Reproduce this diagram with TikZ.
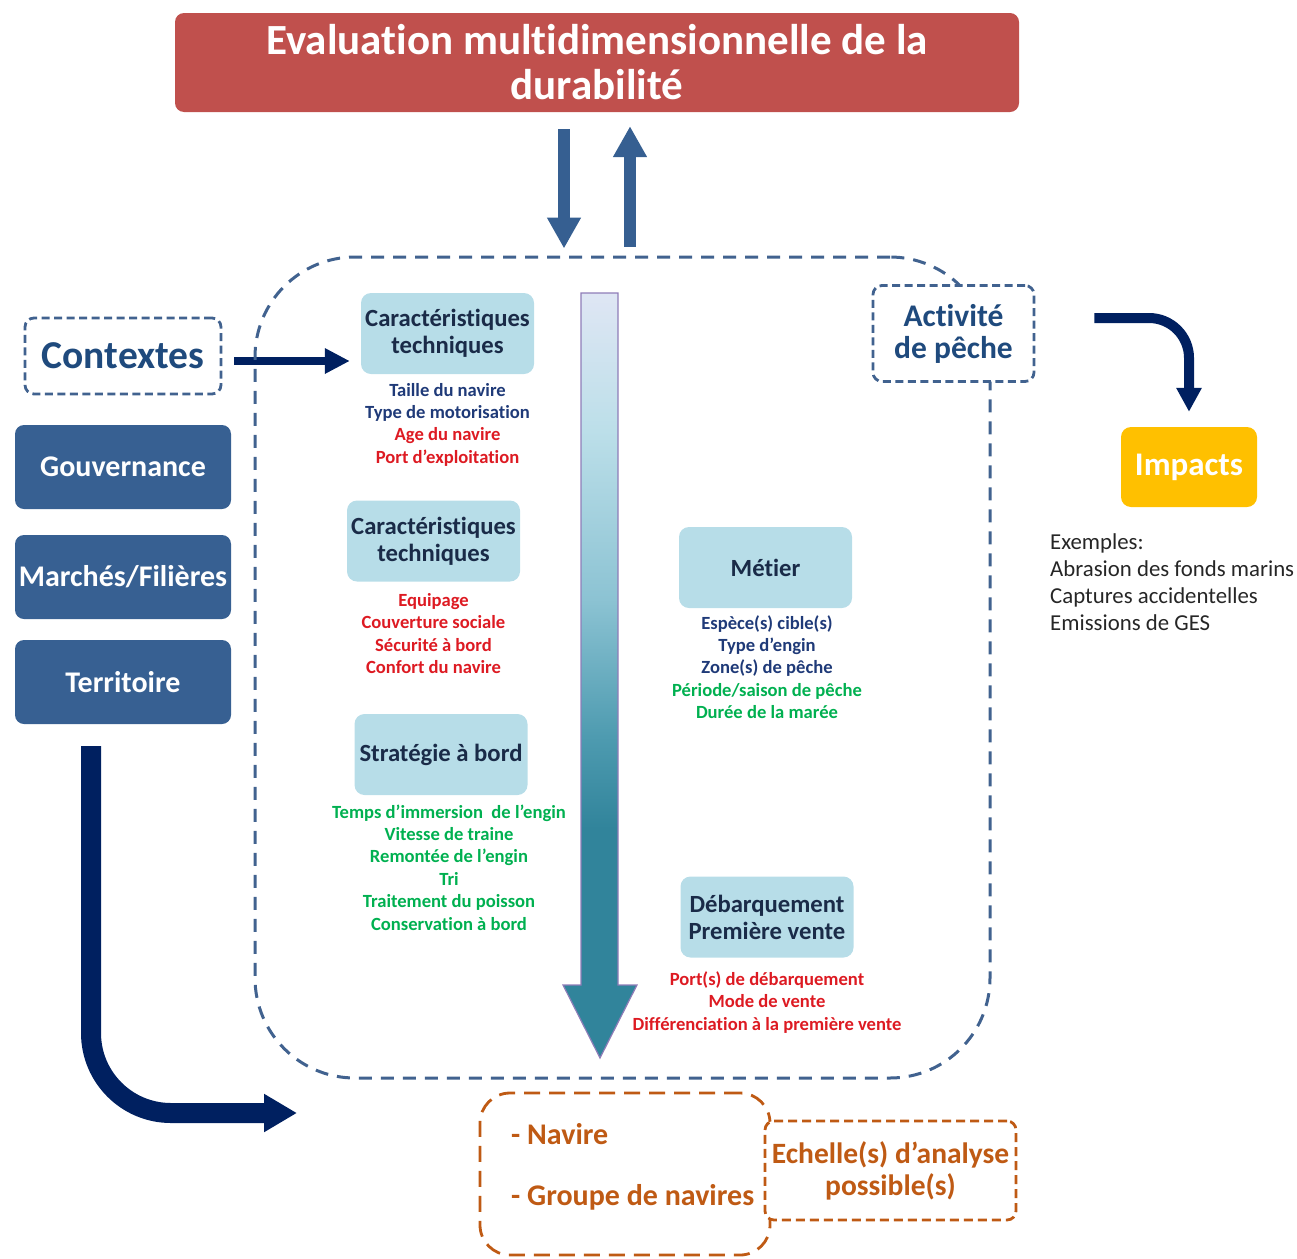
\documentclass[tikz,border=0pt]{standalone}
\usepackage{fontspec}
\setmainfont{Carlito}[Ligatures=NoCommon]
\usetikzlibrary{arrows.meta,calc}

\definecolor{titlered}{HTML}{C0504D}
\definecolor{arrowblue}{HTML}{365F91}
\definecolor{navy}{HTML}{002060}
\definecolor{dashblue}{HTML}{41628F}
\definecolor{headblue}{HTML}{1F4A7D}
\definecolor{ctxbox}{HTML}{376092}
\definecolor{lbfill}{HTML}{B7DDE8}
\definecolor{lbtext}{HTML}{1A2B48}
\definecolor{listnavy}{HTML}{1F3A78}
\definecolor{listred}{HTML}{DD1A22}
\definecolor{listgreen}{HTML}{00B050}
\definecolor{impyellow}{HTML}{FFC000}
\definecolor{exgray}{HTML}{262626}
\definecolor{brown}{HTML}{BF5A14}
\definecolor{gteal}{HTML}{31849B}
\definecolor{gmidB}{HTML}{4E9BB0}
\definecolor{gmidA}{HTML}{8CC3D3}
\definecolor{glight}{HTML}{BCDFE9}
\definecolor{gtop}{HTML}{DFE6F4}
\definecolor{gborder}{HTML}{8F7DB8}

% vertical colour ramp of the central flow arrow (light at the top, teal at the tip)
\pgfdeclareverticalshading{flowramp}{100bp}{color(0bp)=(gteal); color(40bp)=(gteal);
  color(46bp)=(gmidB); color(55bp)=(gmidA); color(66bp)=(glight); color(75bp)=(gtop); color(100bp)=(gtop)}

\begin{document}
\begin{tikzpicture}[x=1pt,y=-1pt,
  titlebox/.style={fill=titlered, rounded corners=9pt, text=white, align=center,
    font=\bfseries\fontsize{43}{45}\selectfont, minimum width=844pt, minimum height=99pt, inner sep=0pt},
  dashbox/.style={draw=dashblue, fill=white, line width=2.8pt, dash pattern=on 8pt off 4.5pt,
    rounded corners=9pt, text=headblue, align=center, inner sep=0pt},
  ctxstyle/.style={fill=ctxbox, rounded corners=9pt, text=white, minimum width=216pt,
    minimum height=84pt, inner sep=0pt, font=\bfseries\fontsize{30}{32}\selectfont},
  lbox/.style={fill=lbfill, rounded corners=10pt, minimum width=173pt, minimum height=81pt,
    text=lbtext, align=center, inner sep=0pt, font=\bfseries\fontsize{24.7}{27}\selectfont},
  itemlist/.style={anchor=north, align=center, inner sep=0pt, font=\bfseries\fontsize{18.6}{22.4}\selectfont},
  brownbox/.style={draw=brown, line width=2.8pt, text=brown, inner sep=0pt},
  fatblue/.style={draw=arrowblue, line width=12pt, -{Triangle[width=32pt,length=31pt]}},
  navyarrow/.style={draw=navy}
]
\useasboundingbox (0,0) rectangle (1297,1258);

% title banner
\node[titlebox] (title) at (597,62.5) {Evaluation multidimensionnelle de la\\durabilité};

% context column
\node[ctxstyle] (gouv) at (123,467) {Gouvernance};
\node[ctxstyle] (marche) at (123,577) {Marchés/Filières};
\node[ctxstyle] (terr) at (123,682) {Territoire};

% activity blocks
\node[lbox] (tech1) at (447.5,333.5) {Caractéristiques\\techniques};
\node[lbox] (tech2) at (433.5,541) {Caractéristiques\\techniques};
\node[lbox] (strat) at (441,754.5) {Stratégie à bord};
\node[lbox] (metier) at (765.5,567.5) {Métier};
\node[lbox] (debarq) at (767,917) {Débarquement\\Première vente};

\node[itemlist] (list1) at ($(tech1.south)+(0,6)$) {\strut\textcolor{listnavy}{Taille du navire}\\
  \textcolor{listnavy}{Type de motorisation}\\\textcolor{listred}{Age du navire}\\
  \textcolor{listred}{Port d’exploitation}};
\node[itemlist, text=listred] (list2) at ($(tech2.south)+(0,9)$) {\strut Equipage\\Couverture sociale\\
  Sécurité à bord\\Confort du navire};
\node[itemlist, text=listgreen] (list3) at ($(strat.south)+(8,7)$) {\strut Temps d’immersion \ de l’engin\\
  Vitesse de traine\\Remontée de l’engin\\Tri\\Traitement du poisson\\Conservation à bord};
\node[itemlist] (list4) at ($(metier.south)+(1.5,5)$) {\strut\textcolor{listnavy}{Espèce(s) cible(s)}\\
  \textcolor{listnavy}{Type d’engin}\\\textcolor{listnavy}{Zone(s) de pêche}\\
  \textcolor{listgreen}{Période/saison de pêche}\\\textcolor{listgreen}{Durée de la marée}};
\node[itemlist, text=listred] (list5) at ($(debarq.south)+(0,12)$) {\strut Port(s) de débarquement\\
  Mode de vente\\Différenciation à la première vente};

% central flow arrow
\shadedraw[shading=flowramp, draw=gborder, line width=1.2pt, line join=miter]
  (581,293) -- (618,293) -- (618,985) -- (637,985) -- (600,1058) -- (563,985) -- (581,985) -- cycle;

% Contextes -> technical characteristics
\node[dashbox, minimum width=196pt, minimum height=76pt, font=\bfseries\fontsize{39.5}{40}\selectfont]
  (ctx) at (123,356) {Contextes};
\coordinate (ctxhit) at (ctx.east -| tech1.west);
\draw[navyarrow, line width=8pt, -{Triangle[width=24pt,length=25pt]}]
  ($(ctx.east)+(12,5)$) -- ($(ctxhit)+(-11,5)$);

% dashed frame of the fishing activity
\node[draw=dashblue, line width=3pt, dash pattern=on 13pt off 9pt, rounded corners=100pt,
  minimum width=735pt, minimum height=821pt, inner sep=0pt] (frame) at (622.5,667.5) {};

\node[dashbox, minimum width=161pt, minimum height=96pt, font=\bfseries\fontsize{31.5}{32}\selectfont]
  (act) at (953.5,333.5) {Activité\\de pêche};

% exchanges with the assessment
\coordinate (downx) at ($(title.south)+(-33,0)$);
\coordinate (upx) at ($(title.south)+(33,0)$);
\draw[fatblue] ($(downx)+(0,17)$) -- ($(downx |- frame.north)+(0,-7)$);
\draw[fatblue] ($(upx |- frame.north)+(0,-9)$) -- ($(upx)+(0,14)$);

% impacts
\node[fill=impyellow, rounded corners=10pt, minimum width=136pt, minimum height=80pt, inner sep=0pt,
  text=white, font=\bfseries\fontsize{33}{34}\selectfont] (imp) at (1189,467) {Impacts};
\draw[navyarrow, line width=10pt, rounded corners=40pt, -{Triangle[width=24pt,length=24pt]}]
  ($(act.east)+(59,-15.5)$) -| ($(imp.north)+(0,-15)$);
\node[anchor=north west, align=left, inner sep=0pt, text=exgray, font=\fontsize{22.8}{27}\selectfont]
  (ex) at (1050,530) {\strut Exemples:\\Abrasion des fonds marins\\Captures accidentelles\\Emissions de GES};

% scales of analysis
\node[brownbox, dash pattern=on 16pt off 9pt, rounded corners=30pt, minimum width=290pt,
  minimum height=162pt] (scale) at (625,1174) {};
\node[anchor=west, inner sep=0pt, text=brown, font=\bfseries\fontsize{30}{30}\selectfont]
  (nav1) at (511,1134) {- Navire};
\node[anchor=west, inner sep=0pt, text=brown, font=\bfseries\fontsize{30}{30}\selectfont]
  (nav2) at (511,1197) {- Groupe de navires};
\node[brownbox, fill=white, dash pattern=on 9pt off 5pt, rounded corners=9pt, minimum width=251pt,
  minimum height=99pt, align=center, font=\bfseries\fontsize{29.5}{32}\selectfont]
  (ech) at (890.5,1170.5) {Echelle(s) d’analyse\\possible(s)};

% context arrow down to the scales
\coordinate (lend) at (297,1113);
\draw[navyarrow, line width=20pt, rounded corners=80pt, -{Triangle[width=36pt,length=33pt]}]
  ($(terr.south)+(-32,22)$) |- (lend);
\end{tikzpicture}
\end{document}
